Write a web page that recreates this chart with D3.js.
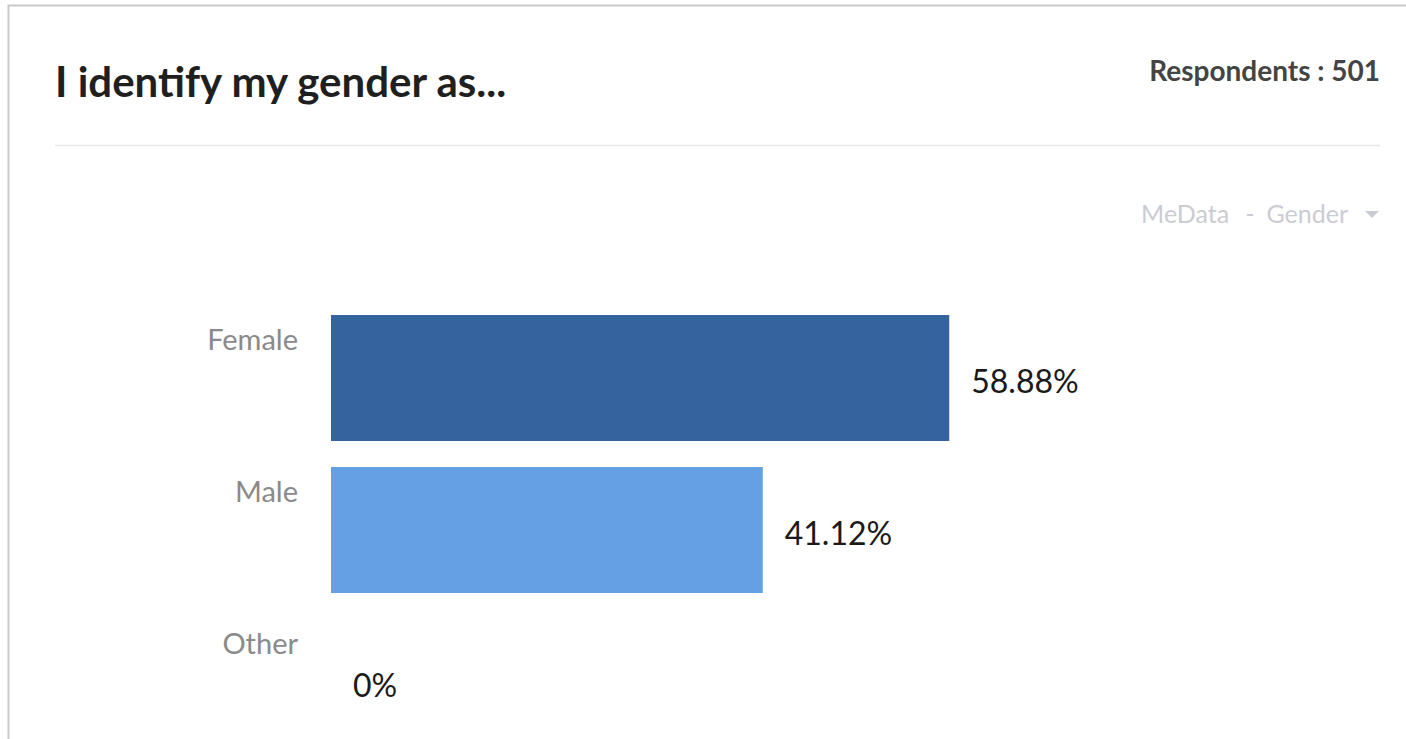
<!DOCTYPE html>
<html>
<head>
<meta charset="utf-8">
<script src="https://cdn.jsdelivr.net/npm/d3@7"></script>
<style>
  body { margin: 0; background: #fff; }
  text { font-family: Lato, "Noto Sans", sans-serif; }
</style>
</head>
<body>
<svg width="1406" height="739"></svg>
<script>
var categories = ["Female", "Male", "Other"];
var values = [58.88, 41.12, 0];
var colors = ["#35639d", "#64a0e3", "#9cc3ee"];
var title = "I identify my gender as...";
var respondents = 501;
var filterLabel = ["MeData", "-", "Gender"];

var svg = d3.select("svg"),
    margin = {top: 315, right: 25, bottom: 0, left: 331},
    g = svg.append("g").attr("transform", "translate(" + margin.left + "," + margin.top + ")");

// card frame
svg.append("path")
    .attr("d", "M8.5,739 V5.5 H1406")
    .attr("fill", "none")
    .attr("stroke", "#c9c9c9")
    .attr("stroke-width", 2);

svg.append("text")
    .attr("x", 55).attr("y", 97)
    .attr("font-size", 42).attr("font-weight", 700)
    .attr("fill", "#1f1f1f")
    .text(title);

svg.append("text")
    .attr("x", 1380).attr("y", 81)
    .attr("text-anchor", "end")
    .attr("font-size", 28).attr("font-weight", 700)
    .attr("fill", "#444")
    .text("Respondents : " + respondents);

svg.append("line")
    .attr("x1", 55).attr("x2", 1380)
    .attr("y1", 145.5).attr("y2", 145.5)
    .attr("stroke", "#e6e6e6").attr("stroke-width", 1.5);

var filt = svg.append("text")
    .attr("x", 1348).attr("y", 223)
    .attr("text-anchor", "end")
    .attr("font-size", 25)
    .attr("fill", "#cbcbd3");
filt.append("tspan").text(filterLabel[0]);
filt.append("tspan").attr("dx", 16).text(filterLabel[1]);
filt.append("tspan").attr("dx", 12).text(filterLabel[2]);
svg.append("path")
    .attr("d", "M1365,211 L1379,211 L1372,218 Z")
    .attr("fill", "#cbcbd3");

var x = d3.scaleLinear()
    .domain([0, 100])
    .range([0, 1050]);

var y = d3.scaleBand()
    .domain(categories)
    .range([0, 152 * categories.length - 26])
    .paddingInner(26 / 152)
    .paddingOuter(0);

var rows = g.selectAll(".row")
    .data(categories)
    .enter().append("g")
    .attr("class", "row")
    .attr("transform", function (d) { return "translate(0," + y(d) + ")"; });

rows.append("rect")
    .attr("width", function (d, i) { return x(values[i]); })
    .attr("height", y.bandwidth())
    .attr("fill", function (d, i) { return colors[i]; });

rows.append("text")
    .attr("x", -33)
    .attr("y", 35)
    .attr("text-anchor", "end")
    .attr("font-size", 29)
    .attr("fill", "#8a8a8a")
    .text(function (d) { return d; });

rows.append("text")
    .attr("x", function (d, i) { return x(values[i]) + 22; })
    .attr("y", y.bandwidth() / 2 + 15)
    .attr("font-size", 32)
    .attr("fill", "#1a1a1a")
    .text(function (d, i) { return values[i] + "%"; });
</script>
</body>
</html>
